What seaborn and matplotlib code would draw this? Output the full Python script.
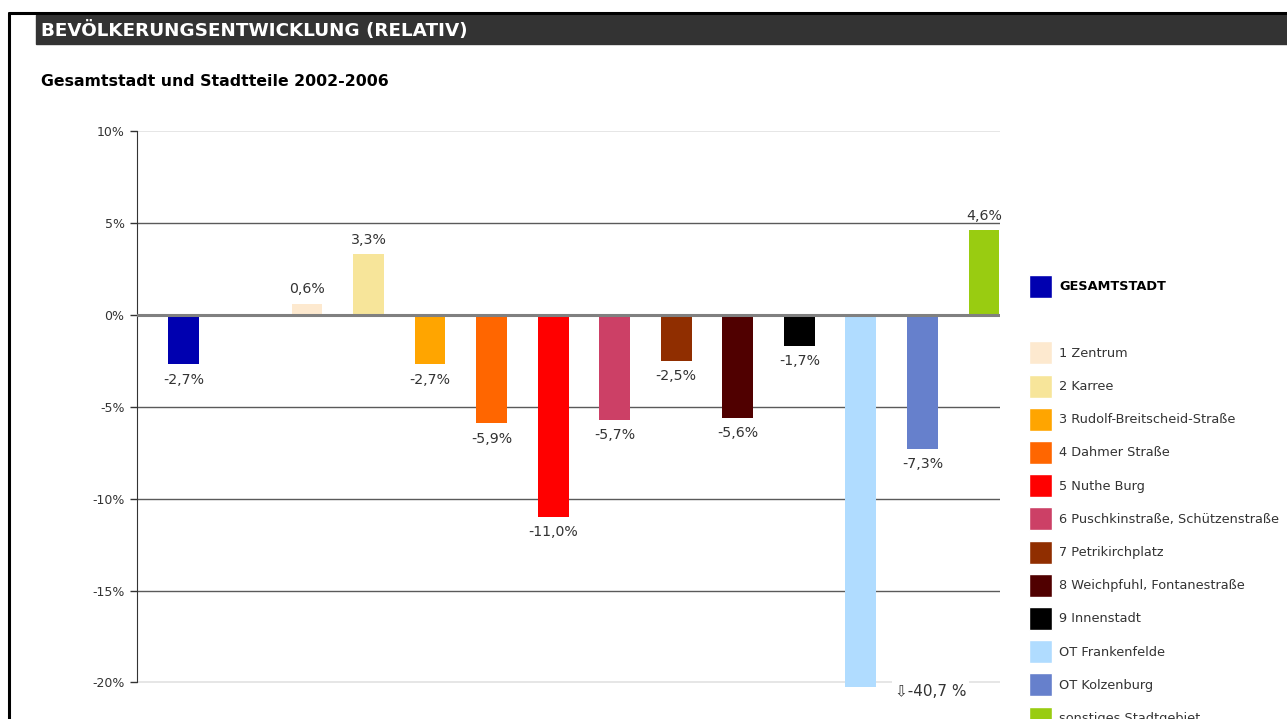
import matplotlib
matplotlib.use("Agg")
import matplotlib.pyplot as plt
from matplotlib.patches import Patch, Rectangle
import seaborn as sns
import pandas as pd

categories = ["GESAMTSTADT", "1 Zentrum", "2 Karree", "3 Rudolf-Breitscheid-Straße",
              "4 Dahmer Straße", "5 Nuthe Burg", "6 Puschkinstraße, Schützenstraße",
              "7 Petrikirchplatz", "8 Weichpfuhl, Fontanestraße", "9 Innenstadt",
              "OT Frankenfelde", "OT Kolzenburg", "sonstiges Stadtgebiet"]
values = [-2.7, 0.6, 3.3, -2.7, -5.9, -11.0, -5.7, -2.5, -5.6, -1.7, -40.7, -7.3, 4.6]
colors = ["#0000B0", "#FDE9CF", "#F7E59A", "#FFA500", "#FF6600", "#FF0000", "#CC4066",
          "#902E00", "#500000", "#000000", "#B0DCFF", "#6680CC", "#99CC11"]
y_ticks = [10, 5, 0, -5, -10, -15, -20]

sns.set_style("white")
plt.rcParams["font.family"] = ["DejaVu Sans"]

df = pd.DataFrame({"cat": categories, "val": values})
order = [categories[0], ""] + categories[1:]
palette = dict(zip(categories, colors))

fig = plt.figure(figsize=(12.87, 7.19), dpi=100)
W, H = 1287, 719

# page border
fig.add_artist(plt.Line2D([9 / W, 1], [1 - 13 / H, 1 - 13 / H], color="black", lw=2.2))
fig.add_artist(plt.Line2D([9 / W, 9 / W], [0, 1 - 13 / H], color="black", lw=2.2))
# title bar
fig.add_artist(Rectangle((36 / W, 1 - 44 / H), 1 - 36 / W, 29 / H, color="#333333",
                         transform=fig.transFigure))
fig.text(41 / W, 1 - 30 / H, "BEVÖLKERUNGSENTWICKLUNG (RELATIV)", color="white",
         fontsize=13.2, fontweight="bold", va="center", ha="left")
fig.text(41 / W, 1 - 82 / H, "Gesamtstadt und Stadtteile 2002-2006", color="black",
         fontsize=11.3, fontweight="bold", va="center", ha="left")

ax = fig.add_axes([137 / W, 1 - 687 / H, (1000 - 137) / W, (687 - 131) / H])
sns.barplot(data=df, x="cat", y="val", hue="cat", order=order, hue_order=categories,
            palette=palette, width=0.5, dodge=False, legend=False, ax=ax,
            saturation=1, errorbar=None, linewidth=0, edgecolor="none")

ymin, ymax = -20.25, 10
ax.set_ylim(ymin, ymax)
ax.set_xlim(-0.76, 13.26)
ax.set_xlabel("")
ax.set_ylabel("")
ax.set_xticks([])
ax.set_yticks(y_ticks)
ax.set_yticklabels([f"{t}%" for t in y_ticks], fontsize=9, color="#333333")
ax.tick_params(axis="y", length=5, width=1, color="#333333", pad=4, left=True)
for s in ["top", "right", "bottom"]:
    ax.spines[s].set_visible(False)
ax.spines["left"].set_color("#333333")
ax.spines["left"].set_bounds(-20, 10)
ax.set_axisbelow(True)

for t in y_ticks:
    if t == 0:
        ax.axhline(t, color="#808080", lw=2.2, zorder=3)
    elif t in (10, -20):
        ax.axhline(t, color="#e2e2e2", lw=1.2, zorder=0)
    else:
        ax.axhline(t, color="#5a5a5a", lw=1, zorder=0)

for i, (c, v) in enumerate(zip(categories, values)):
    x = order.index(c)
    lab = f"{v:.1f}".replace(".", ",")
    if v < ymin:
        ax.annotate(f"\u21e9{lab} %", xy=(x, ymin), xytext=(50, -3), textcoords="offset points",
                    ha="center", va="center", fontsize=11, color="#333333",
                    annotation_clip=False,
                    bbox=dict(facecolor="white", edgecolor="none", pad=2))
    elif v >= 0:
        ax.annotate(f"{lab}%", xy=(x, v), xytext=(0, 5.5), textcoords="offset points",
                    ha="center", va="bottom", fontsize=10.2, color="#333333")
    else:
        ax.annotate(f"{lab}%", xy=(x, v), xytext=(0, -6), textcoords="offset points",
                    ha="center", va="top", fontsize=10.2, color="#333333")

handles = [Patch(facecolor=colors[0]), Patch(facecolor="none", edgecolor="none")] + \
          [Patch(facecolor=c) for c in colors[1:]]
labels = [categories[0], ""] + categories[1:]
fs = 9.3
fpx = fs * 100 / 72
sq_pt = 23 * 72 / 100
leg = fig.legend(handles, labels, loc="upper left", bbox_to_anchor=(1029 / W, 1 - 275 / H),
                 frameon=False, fontsize=fs, borderpad=0, borderaxespad=0,
                 handlelength=sq_pt / fs, handleheight=(sq_pt / fs - 0.245) / 0.65,
                 labelspacing=10.2 / fpx, handletextpad=7 / fpx)
for txt in leg.get_texts():
    txt.set_color("#333333")
leg.get_texts()[0].set_fontweight("bold")
leg.get_texts()[0].set_color("black")

fig.savefig("out.png", dpi=100)
